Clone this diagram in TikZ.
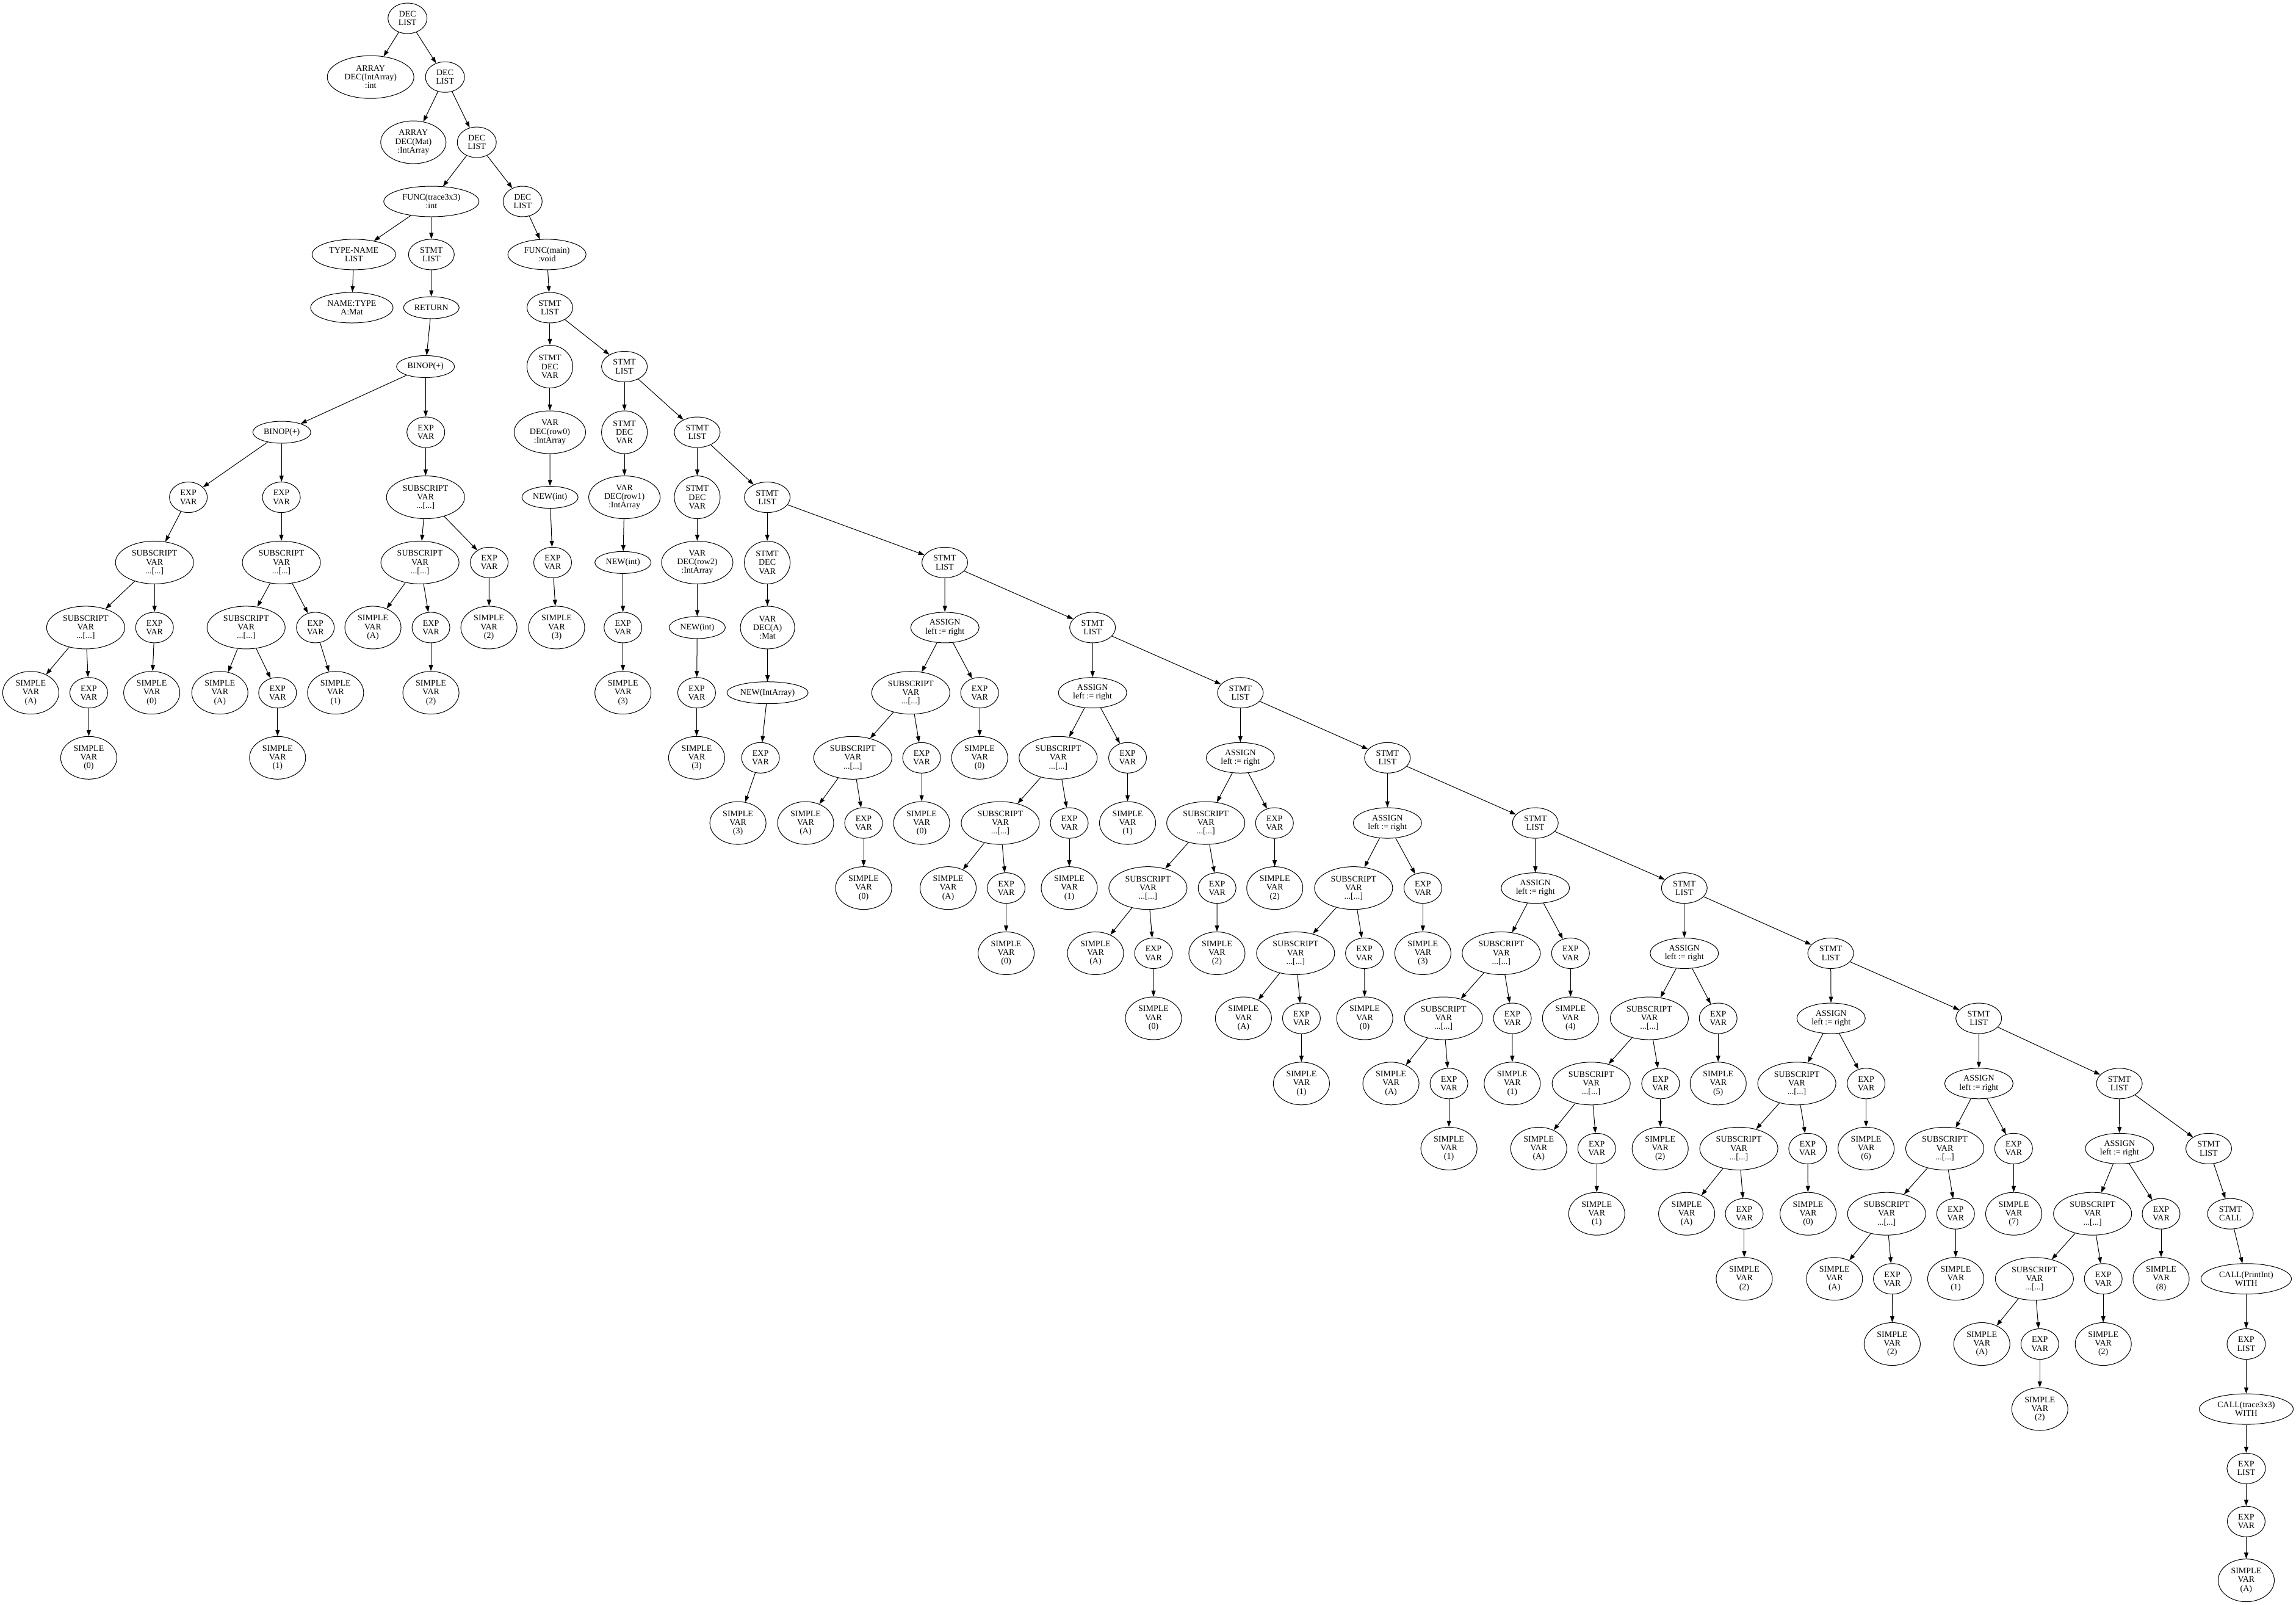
\documentclass[tikz,border=0pt]{standalone}
\usepackage{fontspec}
\setmainfont{Liberation Serif}
\usetikzlibrary{arrows.meta,shapes.geometric}
\newcommand\mySV[1]{SIMPLE\\VAR\\(#1)}
\newcommand\mySUB{SUBSCRIPT\\VAR\\...[...]}
\newcommand\myEV{EXP\\VAR}
\tikzset{
  tn/.style={draw, ellipse, inner sep=0pt, line width=1pt, align=center,
    font=\fontsize{14pt}{14.2pt}\selectfont},
  sz/.style 2 args={minimum width=#1pt, minimum height=#2pt},
  nEV/.style={tn, sz={62}{50}},
  nDL/.style={tn, sz={64}{50}},
  nSL/.style={tn, sz={75}{50}},
  nSV/.style={tn, sz={92}{70}},
  nSB/.style={tn, sz={128}{70}},
  nSD/.style={tn, sz={75}{70}},
  nAS/.style={tn, sz={112}{50}},
  nVD/.style={tn, sz={117}{70}},
  nNW/.style={tn, sz={92}{36}},
  arr/.style={line width=1pt, -{Triangle[length=10pt,width=7pt]}},
}
\begin{document}
\begin{tikzpicture}[x=2.4pt,y=-2.4pt]
\useasboundingbox (0,0) rectangle (1567.5,1095);
% ---- top declarations
\node[nDL] (n0) at (278.2,12.5) {DEC\\LIST};
\node[tn,sz={142}{70}] (n1) at (253.0,52.6) {ARRAY\\DEC(IntArray)\\:int};
\node[nDL] (n2) at (303.8,52.6) {DEC\\LIST};
\node[tn,sz={107}{70}] (n3) at (282.2,97.1) {ARRAY\\DEC(Mat)\\:IntArray};
\node[nDL] (n4) at (325.5,97.1) {DEC\\LIST};
\node[tn,sz={156}{50}] (n5) at (294.5,137.5) {FUNC(trace3x3)\\:int};
\node[nDL] (n6) at (356.8,137.5) {DEC\\LIST};
\node[tn,sz={137}{50}] (n7) at (241.6,173.7) {TYPE-NAME\\LIST};
\node[nSL] (n8) at (294.5,173.7) {STMT\\LIST};
\node[tn,sz={128}{50}] (n9) at (373.4,173.7) {FUNC(main)\\:void};
\node[tn,sz={135}{50}] (n10) at (240.2,210.0) {NAME:TYPE\\A:Mat};
\node[tn,sz={91}{36}] (n11) at (294.5,210.0) {RETURN};
\node[nSL] (n12) at (375.4,210.0) {STMT\\LIST};
\node[tn,sz={95}{36}] (n13) at (290.5,250.2) {BINOP(+)};
\node[tn,sz={95}{36}] (n14) at (192.4,295.0) {BINOP(+)};
\node[nEV] (n15) at (290.7,295.0) {\myEV};
% ---- trace3x3 body
\node[nEV] (a1) at (128.6,339.4) {\myEV};
\node[nSB] (a2) at (105.5,383.9) {\mySUB};
\node[nSB] (a3) at (58.5,428.3) {\mySUB};
\node[nEV] (a4) at (105.5,428.3) {\myEV};
\node[nSV] (a5) at (21.0,472.8) {\mySV{A}};
\node[nEV] (a6) at (60.6,472.8) {\myEV};
\node[nSV] (a7) at (103.6,472.8) {\mySV{0}};
\node[nSV] (a8) at (60.6,517.2) {\mySV{0}};
\node[nEV] (b1) at (192.1,339.4) {\myEV};
\node[nSB] (b2) at (192.1,383.9) {\mySUB};
\node[nSB] (b3) at (168.0,428.3) {\mySUB};
\node[nEV] (b4) at (215.3,428.3) {\myEV};
\node[nSV] (b5) at (150.1,472.8) {\mySV{A}};
\node[nEV] (b6) at (189.5,472.8) {\myEV};
\node[nSV] (b7) at (229.1,472.8) {\mySV{1}};
\node[nSV] (b8) at (189.5,517.2) {\mySV{1}};
\node[nSB] (c2) at (290.5,339.4) {\mySUB};
\node[nSB] (c3) at (286.7,383.9) {\mySUB};
\node[nEV] (c4) at (334.0,383.9) {\myEV};
\node[nSV] (c5) at (254.6,428.3) {\mySV{A}};
\node[nEV] (c6) at (294.2,428.3) {\myEV};
\node[nSV] (c7) at (333.8,428.3) {\mySV{2}};
\node[nSV] (c8) at (294.2,472.8) {\mySV{2}};
% ---- main body: declarations
\node[nSD] (m0) at (375.4,250.2) {STMT\\DEC\\VAR};
\node[nSL] (m1) at (426.3,250.2) {STMT\\LIST};
\node[nVD] (d1) at (375.4,295.0) {VAR\\DEC(row0)\\:IntArray};
\node[nNW] (d2) at (375.5,339.4) {NEW(int)};
\node[nEV] (d3) at (377.3,383.9) {\myEV};
\node[nSV] (d4) at (380.0,428.3) {\mySV{3}};
\node[nSD] (m2) at (426.3,295.0) {STMT\\DEC\\VAR};
\node[nSL] (m3) at (476.0,295.0) {STMT\\LIST};
\node[nVD] (e1) at (426.3,339.4) {VAR\\DEC(row1)\\:IntArray};
\node[nNW] (e2) at (425.3,383.9) {NEW(int)};
\node[nEV] (e3) at (425.3,428.3) {\myEV};
\node[nSV] (e4) at (425.3,472.8) {\mySV{3}};
\node[nSD] (m4) at (476.0,339.4) {STMT\\DEC\\VAR};
\node[nSL] (m5) at (523.8,339.4) {STMT\\LIST};
\node[nVD] (f1) at (476.0,383.9) {VAR\\DEC(row2)\\:IntArray};
\node[nNW] (f2) at (476.0,428.3) {NEW(int)};
\node[nEV] (f3) at (475.6,472.8) {\myEV};
\node[nSV] (f4) at (475.6,517.2) {\mySV{3}};
\node[nSD] (m6) at (523.8,383.9) {STMT\\DEC\\VAR};
\node[nSL] (s9) at (645.0,383.9) {STMT\\LIST};
\node[tn,sz={89}{70}] (g1) at (524.0,428.3) {VAR\\DEC(A)\\:Mat};
\node[tn,sz={133}{36}] (g2) at (524.0,472.8) {NEW(IntArray)};
\node[nEV] (g3) at (519.2,517.2) {\myEV};
\node[nSV] (g4) at (503.8,561.7) {\mySV{3}};
% ---- statement list chain
\node[nSL] (s10) at (745.9,428.3) {STMT\\LIST};
\node[nSL] (s11) at (846.8,472.8) {STMT\\LIST};
\node[nSL] (s12) at (947.2,517.2) {STMT\\LIST};
\node[nSL] (s13) at (1048.2,561.7) {STMT\\LIST};
\node[nSL] (s14) at (1149.9,606.1) {STMT\\LIST};
\node[nSL] (s15) at (1249.8,650.6) {STMT\\LIST};
\node[nSL] (s16) at (1350.9,695.0) {STMT\\LIST};
\node[nSL] (s17) at (1446.9,739.5) {STMT\\LIST};
\node[nSL] (s18) at (1507.9,783.9) {STMT\\LIST};
% ---- assign 1
\node[nAS] (p1-a) at (645.1,428.3) {ASSIGN\\left := right};
\node[nSB] (p1-o) at (621.8,472.8) {\mySUB};
\node[nEV] (p1-r) at (668.8,472.8) {\myEV};
\node[nSB] (p1-i) at (582.2,517.2) {\mySUB};
\node[nEV] (p1-x) at (629.2,517.2) {\myEV};
\node[nSV] (p1-n) at (668.8,517.2) {\mySV{0}};
\node[nSV] (p1-A) at (550.0,561.7) {\mySV{A}};
\node[nEV] (p1-y) at (589.6,561.7) {\myEV};
\node[nSV] (p1-v) at (629.2,561.7) {\mySV{0}};
\node[nSV] (p1-w) at (589.6,606.1) {\mySV{0}};
% ---- assign 2
\node[nAS] (p2-a) at (745.9,472.8) {ASSIGN\\left := right};
\node[nSB] (p2-o) at (722.4,517.2) {\mySUB};
\node[nEV] (p2-r) at (769.8,517.2) {\myEV};
\node[nSB] (p2-i) at (682.9,561.7) {\mySUB};
\node[nEV] (p2-x) at (730.0,561.7) {\myEV};
\node[nSV] (p2-n) at (769.8,561.7) {\mySV{1}};
\node[nSV] (p2-A) at (647.3,606.1) {\mySV{A}};
\node[nEV] (p2-y) at (686.9,606.1) {\myEV};
\node[nSV] (p2-v) at (730.0,606.1) {\mySV{1}};
\node[nSV] (p2-w) at (686.9,650.6) {\mySV{0}};
% ---- assign 3
\node[nAS] (p3-a) at (846.8,517.2) {ASSIGN\\left := right};
\node[nSB] (p3-o) at (823.2,561.7) {\mySUB};
\node[nEV] (p3-r) at (870.1,561.7) {\myEV};
\node[nSB] (p3-i) at (783.7,606.1) {\mySUB};
\node[nEV] (p3-x) at (830.9,606.1) {\myEV};
\node[nSV] (p3-n) at (870.3,606.1) {\mySV{2}};
\node[nSV] (p3-A) at (747.9,650.6) {\mySV{A}};
\node[nEV] (p3-y) at (787.5,650.6) {\myEV};
\node[nSV] (p3-v) at (830.8,650.6) {\mySV{2}};
\node[nSV] (p3-w) at (787.5,695.0) {\mySV{0}};
% ---- assign 4
\node[nAS] (p4-a) at (947.2,561.7) {ASSIGN\\left := right};
\node[nSB] (p4-o) at (924.1,606.1) {\mySUB};
\node[nEV] (p4-r) at (971.4,606.1) {\myEV};
\node[nSB] (p4-i) at (884.5,650.6) {\mySUB};
\node[nEV] (p4-x) at (931.5,650.6) {\myEV};
\node[nSV] (p4-n) at (971.4,650.6) {\mySV{3}};
\node[nSV] (p4-A) at (848.9,695.0) {\mySV{A}};
\node[nEV] (p4-y) at (888.5,695.0) {\myEV};
\node[nSV] (p4-v) at (931.7,695.0) {\mySV{0}};
\node[nSV] (p4-w) at (888.5,739.5) {\mySV{1}};
% ---- assign 5
\node[nAS] (p5-a) at (1048.2,606.1) {ASSIGN\\left := right};
\node[nSB] (p5-o) at (1024.9,650.6) {\mySUB};
\node[nEV] (p5-r) at (1072.2,650.6) {\myEV};
\node[nSB] (p5-i) at (985.5,695.0) {\mySUB};
\node[nEV] (p5-x) at (1032.5,695.0) {\myEV};
\node[nSV] (p5-n) at (1072.2,695.0) {\mySV{4}};
\node[nSV] (p5-A) at (949.6,739.5) {\mySV{A}};
\node[nEV] (p5-y) at (989.2,739.5) {\myEV};
\node[nSV] (p5-v) at (1032.4,739.5) {\mySV{1}};
\node[nSV] (p5-w) at (989.2,783.9) {\mySV{1}};
% ---- assign 6
\node[nAS] (p6-a) at (1149.9,650.6) {ASSIGN\\left := right};
\node[nSB] (p6-o) at (1126.0,695.0) {\mySUB};
\node[nEV] (p6-r) at (1173.0,695.0) {\myEV};
\node[nSB] (p6-i) at (1086.3,739.5) {\mySUB};
\node[nEV] (p6-x) at (1133.7,739.5) {\myEV};
\node[nSV] (p6-n) at (1173.0,739.5) {\mySV{5}};
\node[nSV] (p6-A) at (1050.5,783.9) {\mySV{A}};
\node[nEV] (p6-y) at (1090.1,783.9) {\myEV};
\node[nSV] (p6-v) at (1133.4,783.9) {\mySV{2}};
\node[nSV] (p6-w) at (1090.1,828.4) {\mySV{1}};
% ---- assign 7
\node[nAS] (p7-a) at (1250.1,695.0) {ASSIGN\\left := right};
\node[nSB] (p7-o) at (1226.7,739.5) {\mySUB};
\node[nEV] (p7-r) at (1274.0,739.5) {\myEV};
\node[nSB] (p7-i) at (1187.1,783.9) {\mySUB};
\node[nEV] (p7-x) at (1234.1,783.9) {\myEV};
\node[nSV] (p7-n) at (1274.0,783.9) {\mySV{6}};
\node[nSV] (p7-A) at (1151.5,828.4) {\mySV{A}};
\node[nEV] (p7-y) at (1190.8,828.4) {\myEV};
\node[nSV] (p7-v) at (1234.4,828.4) {\mySV{0}};
\node[nSV] (p7-w) at (1190.8,872.8) {\mySV{2}};
% ---- assign 8
\node[nAS] (p8-a) at (1351.0,739.5) {ASSIGN\\left := right};
\node[nSB] (p8-o) at (1327.7,783.9) {\mySUB};
\node[nEV] (p8-r) at (1374.7,783.9) {\myEV};
\node[nSB] (p8-i) at (1288.0,828.4) {\mySUB};
\node[nEV] (p8-x) at (1335.1,828.4) {\myEV};
\node[nSV] (p8-n) at (1374.8,828.4) {\mySV{7}};
\node[nSV] (p8-A) at (1252.4,872.8) {\mySV{A}};
\node[nEV] (p8-y) at (1291.9,872.8) {\myEV};
\node[nSV] (p8-v) at (1335.2,872.8) {\mySV{1}};
\node[nSV] (p8-w) at (1291.8,917.3) {\mySV{2}};
% ---- assign 9
\node[nAS] (p9-a) at (1447.0,783.9) {ASSIGN\\left := right};
\node[nSB] (p9-o) at (1428.6,828.4) {\mySUB};
\node[nEV] (p9-r) at (1475.4,828.4) {\myEV};
\node[nSB] (p9-i) at (1388.9,872.8) {\mySUB};
\node[nEV] (p9-x) at (1435.9,872.8) {\myEV};
\node[nSV] (p9-n) at (1475.4,872.8) {\mySV{8}};
\node[nSV] (p9-A) at (1353.0,917.3) {\mySV{A}};
\node[nEV] (p9-y) at (1392.6,917.3) {\myEV};
\node[nSV] (p9-v) at (1435.9,917.3) {\mySV{2}};
\node[nSV] (p9-w) at (1392.6,961.7) {\mySV{2}};
% ---- final call
\node[nSL] (t1) at (1522.7,828.4) {STMT\\CALL};
\node[tn,sz={148}{50}] (t2) at (1533.5,872.8) {CALL(PrintInt)\\WITH};
\node[tn,sz={63}{50}] (t3) at (1533.5,917.3) {EXP\\LIST};
\node[tn,sz={154}{50}] (t4) at (1533.5,961.7) {CALL(trace3x3)\\WITH};
\node[tn,sz={63}{50}] (t5) at (1533.5,1002.2) {EXP\\LIST};
\node[nEV] (t6) at (1533.5,1038.4) {\myEV};
\node[nSV] (t7) at (1533.5,1078.6) {\mySV{A}};
% ---- edges
\draw[arr] (n0) -- (n1);
\draw[arr] (n0) -- (n2);
\draw[arr] (n2) -- (n3);
\draw[arr] (n2) -- (n4);
\draw[arr] (n4) -- (n5);
\draw[arr] (n4) -- (n6);
\draw[arr] (n5) -- (n7);
\draw[arr] (n5) -- (n8);
\draw[arr] (n6) -- (n9);
\draw[arr] (n7) -- (n10);
\draw[arr] (n8) -- (n11);
\draw[arr] (n9) -- (n12);
\draw[arr] (n11) -- (n13);
\draw[arr] (n13) -- (n14);
\draw[arr] (n13) -- (n15);
\draw[arr] (n14) -- (a1);
\draw[arr] (n14) -- (b1);
\draw[arr] (a1) -- (a2);
\draw[arr] (a2) -- (a3);
\draw[arr] (a2) -- (a4);
\draw[arr] (a3) -- (a5);
\draw[arr] (a3) -- (a6);
\draw[arr] (a4) -- (a7);
\draw[arr] (a6) -- (a8);
\draw[arr] (b1) -- (b2);
\draw[arr] (b2) -- (b3);
\draw[arr] (b2) -- (b4);
\draw[arr] (b3) -- (b5);
\draw[arr] (b3) -- (b6);
\draw[arr] (b4) -- (b7);
\draw[arr] (b6) -- (b8);
\draw[arr] (n15) -- (c2);
\draw[arr] (c2) -- (c3);
\draw[arr] (c2) -- (c4);
\draw[arr] (c3) -- (c5);
\draw[arr] (c3) -- (c6);
\draw[arr] (c4) -- (c7);
\draw[arr] (c6) -- (c8);
\draw[arr] (n12) -- (m0);
\draw[arr] (n12) -- (m1);
\draw[arr] (m0) -- (d1);
\draw[arr] (d1) -- (d2);
\draw[arr] (d2) -- (d3);
\draw[arr] (d3) -- (d4);
\draw[arr] (m1) -- (m2);
\draw[arr] (m1) -- (m3);
\draw[arr] (m2) -- (e1);
\draw[arr] (e1) -- (e2);
\draw[arr] (e2) -- (e3);
\draw[arr] (e3) -- (e4);
\draw[arr] (m3) -- (m4);
\draw[arr] (m3) -- (m5);
\draw[arr] (m4) -- (f1);
\draw[arr] (f1) -- (f2);
\draw[arr] (f2) -- (f3);
\draw[arr] (f3) -- (f4);
\draw[arr] (m5) -- (m6);
\draw[arr] (m5) -- (s9);
\draw[arr] (m6) -- (g1);
\draw[arr] (g1) -- (g2);
\draw[arr] (g2) -- (g3);
\draw[arr] (g3) -- (g4);
\draw[arr] (s9) -- (p1-a);
\draw[arr] (s9) -- (s10);
\draw[arr] (s10) -- (p2-a);
\draw[arr] (s10) -- (s11);
\draw[arr] (s11) -- (p3-a);
\draw[arr] (s11) -- (s12);
\draw[arr] (s12) -- (p4-a);
\draw[arr] (s12) -- (s13);
\draw[arr] (s13) -- (p5-a);
\draw[arr] (s13) -- (s14);
\draw[arr] (s14) -- (p6-a);
\draw[arr] (s14) -- (s15);
\draw[arr] (s15) -- (p7-a);
\draw[arr] (s15) -- (s16);
\draw[arr] (s16) -- (p8-a);
\draw[arr] (s16) -- (s17);
\draw[arr] (s17) -- (p9-a);
\draw[arr] (s17) -- (s18);
\draw[arr] (s18) -- (t1);
\draw[arr] (t1) -- (t2);
\draw[arr] (t2) -- (t3);
\draw[arr] (t3) -- (t4);
\draw[arr] (t4) -- (t5);
\draw[arr] (t5) -- (t6);
\draw[arr] (t6) -- (t7);
\foreach \i in {1,...,9}{
  \draw[arr] (p\i-a) -- (p\i-o);
  \draw[arr] (p\i-a) -- (p\i-r);
  \draw[arr] (p\i-o) -- (p\i-i);
  \draw[arr] (p\i-o) -- (p\i-x);
  \draw[arr] (p\i-r) -- (p\i-n);
  \draw[arr] (p\i-i) -- (p\i-A);
  \draw[arr] (p\i-i) -- (p\i-y);
  \draw[arr] (p\i-x) -- (p\i-v);
  \draw[arr] (p\i-y) -- (p\i-w);
}
\end{tikzpicture}
\end{document}
